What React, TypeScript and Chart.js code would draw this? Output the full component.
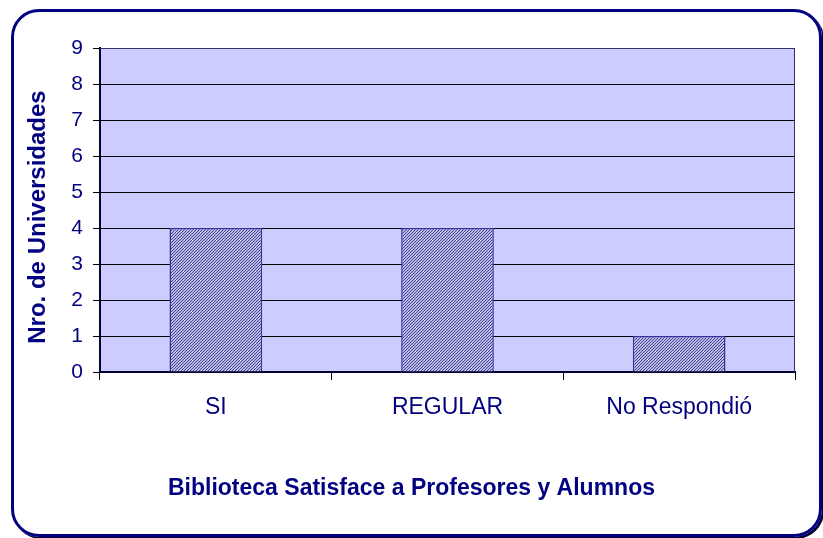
import React, { useEffect, useRef } from "react";
import { Chart, registerables } from "chart.js";

Chart.register(...registerables);

const categories = ["SI", "REGULAR", "No Respondió"];
const values = [4, 4, 1];
const yTicks = [0, 1, 2, 3, 4, 5, 6, 7, 8, 9];
const xTitle = "Biblioteca Satisface a Profesores y Alumnos";
const yTitle = "Nro. de Universidades";

const NAVY = "#000080";
const FONT = "'Liberation Sans', Arial, sans-serif";

function makePattern(): CanvasPattern | string {
  const c = document.createElement("canvas");
  c.width = 3;
  c.height = 3;
  const g = c.getContext("2d");
  if (!g) return "#8888bb";
  g.fillStyle = "#f0f0ff";
  g.fillRect(0, 0, 3, 3);
  g.strokeStyle = "#3a3a99";
  g.lineWidth = 1.1;
  g.beginPath();
  g.moveTo(0, 3);
  g.lineTo(3, 0);
  g.moveTo(-1, 1);
  g.lineTo(1, -1);
  g.moveTo(2, 4);
  g.lineTo(4, 2);
  g.stroke();
  const p = g.createPattern(c, "repeat");
  return p || "#8888bb";
}

const plotBg = {
  id: "plotBg",
  beforeDraw(chart: any) {
    const { ctx, chartArea } = chart;
    ctx.save();
    ctx.fillStyle = "#ccccff";
    ctx.fillRect(chartArea.left, chartArea.top, chartArea.right - chartArea.left, chartArea.bottom - chartArea.top);
    ctx.restore();
  },
  afterDraw(chart: any) {
    const { ctx, chartArea, width } = chart;
    ctx.save();
    ctx.strokeStyle = "#333366";
    ctx.lineWidth = 1;
    ctx.beginPath();
    ctx.moveTo(chartArea.left, chartArea.top + 0.5);
    ctx.lineTo(chartArea.right - 0.5, chartArea.top + 0.5);
    ctx.lineTo(chartArea.right - 0.5, chartArea.bottom);
    ctx.stroke();
    ctx.fillStyle = NAVY;
    ctx.textAlign = "center";
    ctx.textBaseline = "middle";
    ctx.font = `bold 23px ${FONT}`;
    ctx.fillText(xTitle, width / 2, 489);
    ctx.font = `bold 24px ${FONT}`;
    ctx.translate(38, (chartArea.top + chartArea.bottom) / 2 + 7);
    ctx.rotate(-Math.PI / 2);
    ctx.fillText(yTitle, 0, 0);
    ctx.restore();
  },
};

export default function App() {
  const ref = useRef<HTMLCanvasElement | null>(null);
  useEffect(() => {
    if (!ref.current) return;
    const chart = new Chart(ref.current, {
      type: "bar",
      data: {
        labels: categories,
        datasets: [
          {
            data: values,
            backgroundColor: makePattern() as any,
            borderColor: "#333399",
            borderWidth: 1.5,
            barPercentage: 0.4,
            categoryPercentage: 1,
          },
        ],
      },
      options: {
        animation: false,
        responsive: false,
        layout: { padding: { top: 48, right: 28, left: 0, bottom: 0 } },
        plugins: { legend: { display: false }, tooltip: { enabled: false } },
        scales: {
          x: {
            afterFit: (s: any) => {
              s.height = 538 - 48 - 324;
            },
            grid: {
              offset: true,
              drawOnChartArea: false,
              drawTicks: true,
              tickLength: 8,
              color: "#000000",
            },
            border: { color: "#000033", width: 2 },
            ticks: {
              color: NAVY,
              font: { family: FONT, size: 23 },
              padding: 14,
            },
          },
          y: {
            min: 0,
            max: 9,
            afterFit: (s: any) => {
              s.width = 100;
            },
            afterBuildTicks: (s: any) => {
              s.ticks = yTicks.map((v) => ({ value: v }));
            },
            grid: {
              color: "#000000",
              lineWidth: 1,
              tickLength: 7,
              drawTicks: true,
            },
            border: { color: "#000033", width: 2 },
            ticks: {
              color: NAVY,
              font: { family: FONT, size: 21 },
              padding: 10,
              stepSize: 1,
            },
          },
        },
      },
      plugins: [plotBg],
    });
    return () => chart.destroy();
  }, []);

  return (
    <div style={{ position: "fixed", left: 0, top: 0, width: 823, height: 538, overflow: "hidden", background: "#fff" }}>
      <div
        style={{
          position: "absolute",
          left: 11,
          top: 9,
          width: 805,
          height: 522,
          border: `3.5px solid ${NAVY}`,
          borderRadius: 28,
          boxShadow: "2px 2px 0 #000033",
          boxSizing: "content-box",
        }}
      />
      <canvas ref={ref} width={823} height={538} style={{ position: "absolute", left: 0, top: 0 }} />
    </div>
  );
}
